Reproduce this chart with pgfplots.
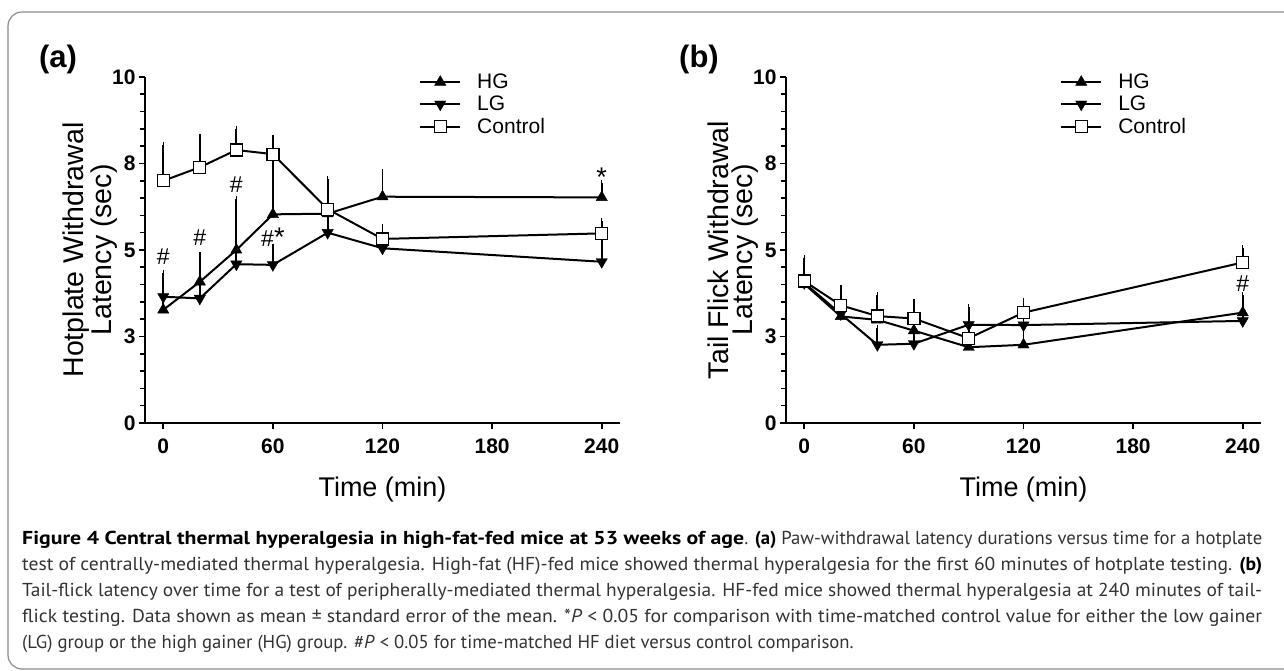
\documentclass[border=0pt]{standalone}
\usepackage{graphicx}
\usepackage{pgfplots}
\pgfplotsset{compat=1.18}
\usepackage{pgfplotstable}
\usepackage{fontspec}
\setmainfont{Liberation Sans}
\newfontfamily\capfont{PT Sans}

\pgfplotstableread{
x y e
0 3.27 0.40
20 4.08 0.78
40 5.00 1.46
60 6.03 1.75
90 6.05 0.90
120 6.54 0.72
240 6.52 0.41
}\hga
\pgfplotstableread{
x y e
0 3.65 0.68
20 3.60 0.95
40 4.59 0.92
60 4.57 0.53
90 5.50 0.51
120 5.05 0.30
240 4.66 0.65
}\lga
\pgfplotstableread{
x y e
0 7.00 1.03
20 7.39 0.88
40 7.89 0.61
60 7.77 0.48
90 6.18 0.87
120 5.32 0.35
240 5.48 0.36
}\cta
\pgfplotstableread{
x y e
0 4.02 0.55
20 3.08 0.65
40 2.98 0.57
60 2.67 0.76
90 2.19 0.35
120 2.26 0.60
240 3.19 0.50
}\hgb
\pgfplotstableread{
x y e
0 4.05 0.60
20 3.15 0.55
40 2.26 0.48
60 2.29 0.50
90 2.84 0.52
120 2.83 0.25
240 2.95 0.60
}\lgb
\pgfplotstableread{
x y e
0 4.10 0.68
20 3.40 0.49
40 3.09 0.60
60 3.02 0.47
90 2.45 0.25
120 3.19 0.33
240 4.64 0.41
}\ctb

\pgfplotsset{
  panel/.style={
    scale only axis, width=475pt, height=346pt,
    xmin=-10, xmax=250, ymin=0, ymax=10,
    axis lines*=left,
    axis line style={line width=2pt},
    tick style={black, line width=1.6pt},
    major tick length=6pt, minor tick length=5pt,
    tick align=outside,
    xtick={0,60,120,180,240},
    ytick={0,2.5,5,7.5,10}, yticklabels={0,3,5,8,10},
    minor y tick num=4,
    /pgf/number format/assume math mode=true,
    ticklabel style={font=\bfseries\fontsize{21}{21}\selectfont},
    xticklabel style={yshift=-6pt},
    xlabel style={font=\fontsize{27}{29}\selectfont, yshift=-17pt},
    ylabel style={font=\fontsize{28.5}{24}\selectfont, align=center, yshift=-12pt},
    xlabel={Time (min)},
    clip=false,
    legend style={draw=none, fill=none, at={(axis cs:140,10.15)}, anchor=north west,
      inner sep=0pt, row sep=2pt, font=\fontsize{21}{21}\selectfont,
      /tikz/every odd column/.append style={column sep=14pt}},
    legend cell align=left,
    legend image code/.code={\draw[mark repeat=2,mark phase=2] plot coordinates {(0pt,0pt) (20pt,0pt) (40pt,0pt)};},
  },
  hg/.style={black, line width=2pt, mark=triangle*, mark size=6.5pt,
    mark options={solid, fill=black, line width=0.4pt},
    error bars/.cd, y dir=plus, y explicit,
    error bar style={line width=1.8pt}, error mark options={line width=1.5pt, mark size=3pt}},
  lg/.style={black, line width=2pt, mark=triangle*, mark size=6.5pt,
    mark options={solid, fill=black, line width=0.4pt, rotate=180},
    error bars/.cd, y dir=plus, y explicit,
    error bar style={line width=1.8pt}, error mark options={line width=1.5pt, mark size=3pt}},
  ct/.style={black, line width=2pt, mark=square*, mark size=6pt,
    mark options={solid, fill=white, draw=black, line width=1.3pt},
    error bars/.cd, y dir=plus, y explicit,
    error bar style={line width=1.8pt}, error mark options={line width=1.5pt, mark size=3pt}},
}

\newcommand{\cf}{\capfont\fontsize{18.7}{18.7}\selectfont}

\begin{document}
\begin{tikzpicture}[x=1pt,y=1pt]
\useasboundingbox (0,0) rectangle (1284,671);
\draw[black!45, line width=1.2pt, rounded corners=14pt] (8,2) rectangle (1330,659);

\node[font=\bfseries\fontsize{31}{31}\selectfont] at (58,612) {(a)};
\node[font=\bfseries\fontsize{31}{31}\selectfont] at (699,612) {(b)};

\begin{axis}[panel, at={(145pt,248pt)}, anchor=south west,
  ylabel={Hotplate Withdrawal\\Latency (sec)}]
\addplot[hg] table[x=x,y=y,y error=e]{\hga};
\addlegendentry{HG}
\addplot[lg] table[x=x,y=y,y error=e]{\lga};
\addlegendentry{LG}
\addplot[ct] table[x=x,y=y,y error=e]{\cta};
\addlegendentry{Control}
\begin{scope}[font=\fontsize{23}{23}\selectfont]
\node at (axis cs:0,4.8) {\#};
\node at (axis cs:20,5.35) {\#};
\node at (axis cs:40,6.88) {\#};
\node at (axis cs:60,5.37) {\#\fontsize{27}{27}\selectfont*};
\node[font=\fontsize{27}{27}\selectfont] at (axis cs:240,7.09) {*};
\end{scope}
\end{axis}

\begin{axis}[panel, at={(786pt,248pt)}, anchor=south west,
  ylabel={Tail Flick Withdrawal\\Latency (sec)}]
\addplot[hg] table[x=x,y=y,y error=e]{\hgb};
\addlegendentry{HG}
\addplot[lg] table[x=x,y=y,y error=e]{\lgb};
\addlegendentry{LG}
\addplot[ct] table[x=x,y=y,y error=e]{\ctb};
\addlegendentry{Control}
\node[font=\fontsize{23}{23}\selectfont] at (axis cs:240,4.03) {\#};
\end{axis}

\begin{scope}[every node/.style={anchor=base west, inner sep=0pt, text=black!80}]
\node at (22,126) {\cf\resizebox{722pt}{\height}{\textcolor{black}{\bfseries Figure 4 Central thermal hyperalgesia in high-fat-fed mice at 53 weeks of age}}\resizebox{518pt}{\height}{. \textcolor{black}{\bfseries (a)} Paw-withdrawal latency durations versus time for a hotplate}};
\node at (22,100) {\cf\resizebox{1240pt}{\height}{test of centrally-mediated thermal hyperalgesia. High-fat (HF)-fed mice showed thermal hyperalgesia for the first 60 minutes of hotplate testing. \textcolor{black}{\bfseries (b)}}};
\node at (22,74) {\cf\resizebox{1240pt}{\height}{Tail-flick latency over time for a test of peripherally-mediated thermal hyperalgesia. HF-fed mice showed thermal hyperalgesia at 240 minutes of tail-}};
\node at (22,48) {\cf\resizebox{1240pt}{\height}{flick testing. Data shown as mean ± standard error of the mean. *\textit{P} < 0.05 for comparison with time-matched control value for either the low gainer}};
\node at (22,22) {\cf (LG) group or the high gainer (HG) group. \#\textit{P} < 0.05 for time-matched HF diet versus control comparison.};
\end{scope}
\end{tikzpicture}
\end{document}
